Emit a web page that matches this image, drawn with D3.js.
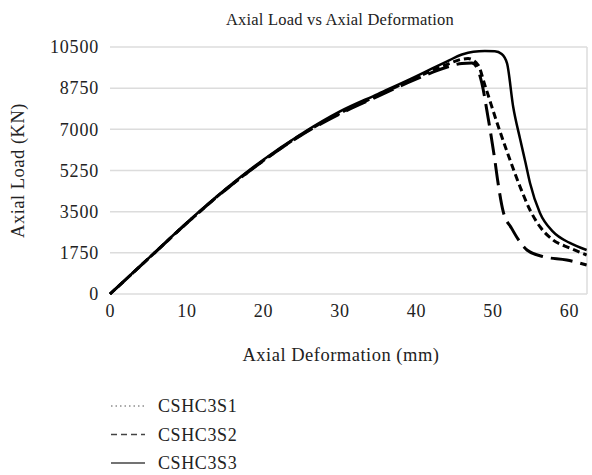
<!DOCTYPE html>
<html>
<head>
<meta charset="utf-8">
<script src="https://cdn.jsdelivr.net/npm/d3@7"></script>
<style>
  html, body { margin: 0; padding: 0; background: #fff; }
  text { font-family: "Liberation Serif", "DejaVu Serif", serif; fill: #222; }
</style>
</head>
<body>
<svg id="chart" width="592" height="475"></svg>
<script>
// Deformation (mm) / load (kN) pairs for each specimen
const seriesNames = ["CSHC3S1", "CSHC3S2", "CSHC3S3"];

const s1Deformation = [0, 5, 10, 15, 20, 25, 30, 35, 40, 44, 46, 47.3, 48, 48.6, 49.4, 50.3, 50.7, 51.4, 52.5, 54.5, 56.6, 59.7, 62.3];
const s1Load        = [0, 1500, 3000, 4400, 5650, 6750, 7650, 8400, 9130, 9640, 9800, 9820, 9600, 8970, 7540, 5700, 4770, 3500, 2790, 1870, 1590, 1445, 1233];

const s2Deformation = [0, 5, 10, 15, 20, 25, 30, 35, 40, 44, 46, 46.8, 48.1, 49, 50.6, 52.1, 53.6, 54.9, 56.2, 57.9, 60.1, 62.3];
const s2Load        = [0, 1500, 3000, 4410, 5660, 6770, 7680, 8440, 9200, 9750, 9980, 10010, 9740, 8880, 7270, 5870, 4560, 3570, 2860, 2300, 1955, 1658];

const s3Deformation = [0, 5, 10, 15, 20, 25, 30, 35, 40, 42, 44, 46, 47.5, 49, 50.3, 51.2, 51.9, 52.7, 53.6, 54.3, 54.9, 56.2, 57.9, 60.1, 62.3];
const s3Load        = [0, 1510, 3020, 4430, 5700, 6800, 7750, 8500, 9250, 9570, 9880, 10180, 10300, 10330, 10320, 10200, 9800, 7960, 6600, 5600, 4720, 3440, 2650, 2170, 1870];

const xTicks = [0, 10, 20, 30, 40, 50, 60];
const yTicks = [0, 1750, 3500, 5250, 7000, 8750, 10500];

const svg = d3.select("#chart");
const plot = { left: 110, right: 587, top: 47, bottom: 294 };

const x = d3.scaleLinear().domain([0, 62.35]).range([plot.left, plot.right]);
const y = d3.scaleLinear().domain([0, 10500]).range([plot.bottom, plot.top]);

// Title
svg.append("text")
  .attr("x", 340).attr("y", 25)
  .attr("text-anchor", "middle")
  .style("font-size", "16.5px")
  .style("letter-spacing", "0.2px")
  .text("Axial Load vs Axial Deformation");

// Horizontal gridlines
svg.append("g").selectAll("line").data(yTicks).join("line")
  .attr("x1", plot.left).attr("x2", plot.right)
  .attr("y1", d => y(d)).attr("y2", d => y(d))
  .attr("stroke", "#dcdcdc").attr("stroke-width", 1.5);

// Right border of plot area
svg.append("line")
  .attr("x1", plot.right).attr("x2", plot.right)
  .attr("y1", plot.top).attr("y2", plot.bottom)
  .attr("stroke", "#dcdcdc").attr("stroke-width", 1.5);

// Y axis
const yAxis = svg.append("g")
  .attr("transform", `translate(${plot.left},0)`)
  .call(d3.axisLeft(y).tickValues(yTicks).tickSize(0).tickPadding(11).tickFormat(d3.format("d")));
yAxis.select(".domain").remove();
yAxis.selectAll("text").style("font-size", "18px").style("letter-spacing", "0.8px").attr("fill", "#222");

// X axis
const xAxis = svg.append("g")
  .attr("transform", `translate(0,${plot.bottom})`)
  .call(d3.axisBottom(x).tickValues(xTicks).tickSize(0).tickPadding(10));
xAxis.select(".domain").remove();
xAxis.selectAll("text").style("font-size", "18px").style("letter-spacing", "0.8px").attr("fill", "#222");

// Axis titles
svg.append("text")
  .attr("x", 341).attr("y", 361)
  .attr("text-anchor", "middle")
  .style("font-size", "18.5px")
  .style("letter-spacing", "0.5px")
  .text("Axial Deformation (mm)");

svg.append("text")
  .attr("transform", `translate(24,${(plot.top + plot.bottom) / 2}) rotate(-90)`)
  .attr("text-anchor", "middle")
  .style("font-size", "18.5px")
  .style("letter-spacing", "0.5px")
  .text("Axial Load (KN)");

// Curves
svg.append("defs").append("clipPath").attr("id", "plotClip")
  .append("rect")
  .attr("x", plot.left - 3).attr("y", plot.top - 10)
  .attr("width", plot.right - plot.left + 3).attr("height", plot.bottom - plot.top + 13);

const line = d3.line()
  .x(d => x(d[0])).y(d => y(d[1]))
  .curve(d3.curveMonotoneX);

const zip = (xs, ys) => xs.map((v, i) => [v, ys[i]]);

const curves = [
  { data: zip(s1Deformation, s1Load), dash: "22,8", width: 3 },
  { data: zip(s2Deformation, s2Load), dash: "7,4", width: 3 },
  { data: zip(s3Deformation, s3Load), dash: null, width: 2.5 }
];

const g = svg.append("g").attr("clip-path", "url(#plotClip)");
curves.forEach(c => {
  g.append("path")
    .attr("d", line(c.data))
    .attr("fill", "none")
    .attr("stroke", "#000")
    .attr("stroke-width", c.width)
    .attr("stroke-linejoin", "round")
    .attr("stroke-dasharray", c.dash);
});

// Legend
const legendStyles = [
  { dash: "1.5,3", width: 1, color: "#555" },
  { dash: "6,4", width: 1.5, color: "#444" },
  { dash: null, width: 1.5, color: "#444" }
];
const legend = svg.append("g");
seriesNames.forEach((name, i) => {
  const ly = 406 + i * 28.5;
  legend.append("line")
    .attr("x1", 111).attr("x2", 145)
    .attr("y1", ly).attr("y2", ly)
    .attr("stroke", legendStyles[i].color)
    .attr("stroke-width", legendStyles[i].width)
    .attr("stroke-dasharray", legendStyles[i].dash);
  legend.append("text")
    .attr("x", 158).attr("y", ly + 6)
    .style("font-size", "18px")
    .style("letter-spacing", "0.6px")
    .text(name);
});
</script>
</body>
</html>
